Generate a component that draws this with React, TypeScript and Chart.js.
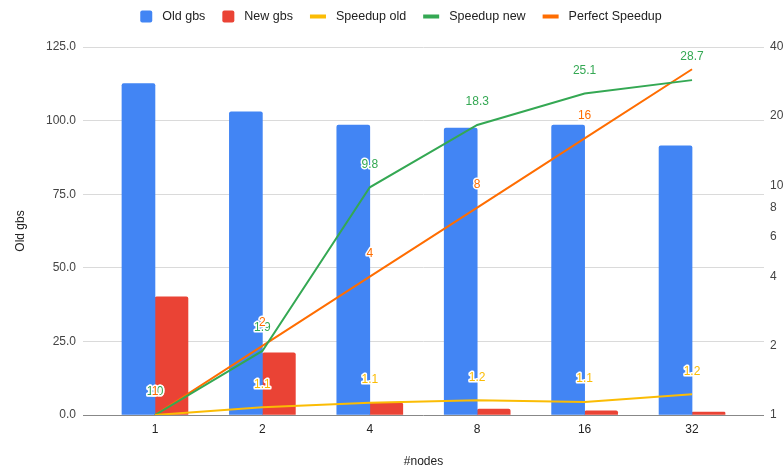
import { useEffect, useRef } from 'react';
import { Chart, registerables } from 'chart.js';

Chart.register(...registerables);

// ---- data ----
const categories = ['1', '2', '4', '8', '16', '32'];
const oldGbs = [112.6, 103.0, 98.5, 97.5, 98.5, 91.4];
const newGbs = [40.1, 21.1, 4.1, 2.0, 1.4, 1.0];
const speedupOld = [1.0, 1.08, 1.13, 1.16, 1.14, 1.23];
const speedupNew = [1.0, 1.9, 9.8, 18.3, 25.1, 28.7];
const perfectSpeedup = [1, 2, 4, 8, 16, 32];
// the last "Perfect Speedup" label is hidden in the original (collides with 28.7)
const perfectLabelShown = [true, true, true, true, true, false];
const leftTicks = [0, 25, 50, 75, 100, 125];
const rightTicks = [1, 2, 4, 6, 8, 10, 20, 40];

const FONT = '"Liberation Sans", Arial, sans-serif';

const formatters: Record<string, (v: number) => string> = {
  'Speedup old': (v) => v.toFixed(1),
  'Speedup new': (v) => v.toFixed(1),
  'Perfect Speedup': (v) => String(v),
};
const shown: Record<string, boolean[]> = {
  'Perfect Speedup': perfectLabelShown,
};

const toXY = (arr: number[]) => arr.map((y, x) => ({ x, y }));

const pointLabelPlugin = {
  id: 'pointLabels',
  afterDatasetsDraw(chart: any) {
    const ctx = chart.ctx;
    ctx.save();
    ctx.font = `12px ${FONT}`;
    ctx.textAlign = 'center';
    ctx.textBaseline = 'middle';
    ctx.lineJoin = 'round';
    chart.data.datasets.forEach((ds: any, i: number) => {
      if (ds.type !== 'line') return;
      const meta = chart.getDatasetMeta(i);
      const fmt = formatters[ds.label] || ((v: number) => String(v));
      const vis = shown[ds.label];
      meta.data.forEach((pt: any, j: number) => {
        if (vis && !vis[j]) return;
        const v = ds.data[j].y;
        const text = fmt(v);
        const x = pt.x;
        const y = pt.y - 23;
        ctx.strokeStyle = '#ffffff';
        ctx.lineWidth = 3;
        ctx.strokeText(text, x, y);
        ctx.fillStyle = ds.borderColor;
        ctx.fillText(text, x, y);
      });
    });
    ctx.restore();
  },
};

const legendPlugin = {
  id: 'customLegend',
  afterDraw(chart: any) {
    const ctx = chart.ctx;
    ctx.save();
    ctx.font = `12.5px ${FONT}`;
    ctx.textBaseline = 'middle';
    ctx.textAlign = 'left';
    const items = chart.data.datasets.map((ds: any) => {
      const isBar = ds.type === 'bar';
      const markerW = isBar ? 12 : 16;
      const tw = ctx.measureText(ds.label).width;
      return { ds, isBar, markerW, tw, w: markerW + 10 + tw };
    });
    const gap = 17;
    const total = items.reduce((s: number, it: any) => s + it.w, 0) + gap * (items.length - 1);
    const centerX = 401;
    const cy = 16.5;
    let x = centerX - total / 2;
    items.forEach((it: any) => {
      if (it.isBar) {
        ctx.fillStyle = it.ds.backgroundColor;
        ctx.beginPath();
        (ctx as any).roundRect(x, cy - 6, 12, 12, 2);
        ctx.fill();
      } else {
        ctx.fillStyle = it.ds.borderColor;
        ctx.fillRect(x, cy - 2, 16, 4);
      }
      ctx.fillStyle = '#222222';
      ctx.fillText(it.ds.label, x + it.markerW + 10, cy);
      x += it.w + gap;
    });
    ctx.restore();
  },
};

export default function App() {
  const ref = useRef<HTMLCanvasElement | null>(null);

  useEffect(() => {
    if (!ref.current) return;
    Chart.defaults.font.family = FONT;
    const chart = new Chart(ref.current, {
      type: 'bar',
      data: {
        datasets: [
          {
            type: 'bar',
            label: 'Old gbs',
            data: toXY(oldGbs),
            backgroundColor: '#4285F4',
            yAxisID: 'y',
            barThickness: 33,
            borderRadius: { topLeft: 2, topRight: 2 },
            borderSkipped: 'start',
            order: 1,
          } as any,
          {
            type: 'bar',
            label: 'New gbs',
            data: toXY(newGbs),
            backgroundColor: '#EA4335',
            yAxisID: 'y',
            barThickness: 33,
            borderRadius: { topLeft: 2, topRight: 2 },
            borderSkipped: 'start',
            order: 1,
          } as any,
          {
            type: 'line',
            label: 'Speedup old',
            data: toXY(speedupOld),
            borderColor: '#FBBC04',
            backgroundColor: '#FBBC04',
            borderWidth: 2,
            pointRadius: 0,
            yAxisID: 'y1',
            order: 0,
          } as any,
          {
            type: 'line',
            label: 'Speedup new',
            data: toXY(speedupNew),
            borderColor: '#34A853',
            backgroundColor: '#34A853',
            borderWidth: 2,
            pointRadius: 0,
            yAxisID: 'y1',
            order: 0,
          } as any,
          {
            type: 'line',
            label: 'Perfect Speedup',
            data: toXY(perfectSpeedup),
            borderColor: '#FF6D01',
            backgroundColor: '#FF6D01',
            borderWidth: 2,
            pointRadius: 0,
            yAxisID: 'y1',
            order: 0,
          } as any,
        ],
      },
      options: {
        responsive: false,
        animation: false,
        layout: { padding: { top: 47, left: 0, right: 0, bottom: 0 } },
        plugins: {
          legend: { display: false },
          tooltip: { enabled: false },
        },
        scales: {
          x: {
            type: 'linear',
            position: 'bottom',
            offset: false,
            min: -0.67,
            max: 5.67,
            afterBuildTicks: (s: any) => {
              s.ticks = categories.map((_, i) => ({ value: i }));
            },
            ticks: {
              autoSkip: false,
              maxRotation: 0,
              padding: 7,
              color: '#222222',
              font: { size: 12 },
              callback: (v: any) => categories[v] ?? '',
            },
            grid: { display: false, drawTicks: false, offset: false },
            border: { display: false },
            title: {
              display: true,
              text: '#nodes',
              color: '#222222',
              font: { size: 12 },
              padding: { top: 0, bottom: 0 },
            },
            afterFit: (s: any) => {
              s.height = 54;
            },
          } as any,
          y: {
            type: 'linear',
            position: 'left',
            min: 0,
            max: 125,
            afterBuildTicks: (s: any) => {
              s.ticks = leftTicks.map((v) => ({ value: v }));
            },
            ticks: {
              padding: 7,
              color: '#444444',
              font: { size: 12 },
              callback: (v: any) => Number(v).toFixed(1),
            },
            grid: {
              drawTicks: false,
              color: (c: any) => (c.tick && c.tick.value === 0 ? '#888888' : '#dadada'),
              lineWidth: 1,
            },
            border: { display: false },
            title: {
              display: true,
              text: 'Old gbs',
              color: '#222222',
              font: { size: 12 },
              padding: { top: 13, bottom: 0 },
            },
            afterFit: (s: any) => {
              s.width = 83;
            },
          } as any,
          y1: {
            type: 'logarithmic',
            position: 'right',
            min: 1,
            max: 40,
            afterBuildTicks: (s: any) => {
              s.ticks = rightTicks.map((v) => ({ value: v }));
            },
            ticks: {
              padding: 6,
              color: '#444444',
              font: { size: 12 },
              callback: (v: any) => String(v),
            },
            grid: { display: false, drawTicks: false },
            border: { display: false },
            afterFit: (s: any) => {
              s.width = 20;
            },
          } as any,
        },
      },
      plugins: [pointLabelPlugin, legendPlugin],
    });
    return () => chart.destroy();
  }, []);

  return (
    <div style={{ position: 'absolute', left: 0, top: 0, width: 784, height: 469, background: '#ffffff' }}>
      <canvas ref={ref} width={784} height={469} />
    </div>
  );
}
